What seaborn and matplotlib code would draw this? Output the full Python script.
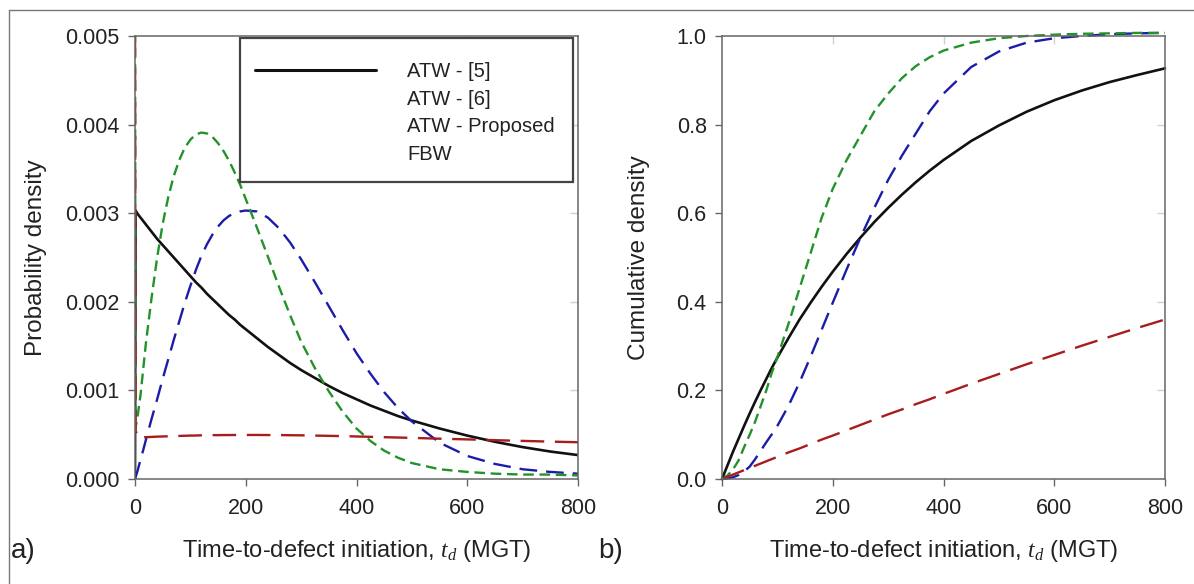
import numpy as np
import pandas as pd
import matplotlib
matplotlib.use("Agg")
import matplotlib.pyplot as plt
import seaborn as sns
from matplotlib.lines import Line2D
from matplotlib.patches import Rectangle
from matplotlib.ticker import FormatStrFormatter

# ---------------- data ----------------
series_names = ["ATW - [5]", "ATW - [6]", "ATW - Proposed", "FBW"]

# probability density, panel a)
t_pdf = [0, 1, 5, 10, 15, 20, 30, 40, 50, 60, 70, 80, 90, 100, 110, 120, 130,
         140, 150, 160, 170, 180, 190, 200, 220, 240, 260, 280, 300, 325, 350,
         375, 400, 425, 450, 475, 500, 550, 600, 650, 700, 750, 800]
pdf_atw5 = [0.0, 0.00303, 0.00299, 0.00295, 0.00291, 0.00287, 0.00279, 0.00271,
            0.00264, 0.00257, 0.00250, 0.00243, 0.00236, 0.00229, 0.00222,
            0.00216, 0.00209, 0.00203, 0.00197, 0.00191, 0.00185, 0.00180,
            0.00174, 0.00169, 0.00159, 0.00149, 0.00140, 0.00131, 0.00123,
            0.00114, 0.00105, 0.00097, 0.00090, 0.00083, 0.00077, 0.00071,
            0.00066, 0.00057, 0.00049, 0.00042, 0.00036, 0.00031, 0.00027]
pdf_atw6 = [0.0, 0.00002, 0.00010, 0.00022, 0.00033, 0.00045, 0.00068, 0.00090,
            0.00113, 0.00135, 0.00157, 0.00178, 0.00199, 0.00218, 0.00236,
            0.00252, 0.00265, 0.00276, 0.00285, 0.00292, 0.00297, 0.00300,
            0.00302, 0.00303, 0.00302, 0.00295, 0.00283, 0.00267, 0.00248,
            0.00222, 0.00195, 0.00168, 0.00142, 0.00119, 0.00098, 0.00080,
            0.00065, 0.00041, 0.00026, 0.00017, 0.00011, 0.00008, 0.00006]
pdf_prop = [0.0055, 0.00058, 0.00072, 0.00095, 0.00125, 0.00155, 0.00205,
            0.00250, 0.00288, 0.00318, 0.00342, 0.00360, 0.00374, 0.00383,
            0.00389, 0.00391, 0.00390, 0.00386, 0.00379, 0.00370, 0.00359,
            0.00346, 0.00332, 0.00316, 0.00284, 0.00251, 0.00217, 0.00185,
            0.00155, 0.00125, 0.00099, 0.00076, 0.00057, 0.00043, 0.00032,
            0.00024, 0.00018, 0.00011, 0.00008, 0.00006, 0.00005, 0.00005,
            0.00004]
pdf_fbw = [0.0055, 0.00055, 0.000470, 0.000470, 0.000471, 0.000472, 0.000475,
           0.000478, 0.000480, 0.000482, 0.000484, 0.000486, 0.000488,
           0.000490, 0.000491, 0.000493, 0.000494, 0.000495, 0.000495,
           0.000496, 0.000496, 0.000497, 0.000497, 0.000497, 0.000497,
           0.000496, 0.000496, 0.000494, 0.000493, 0.000490, 0.000487,
           0.000484, 0.000480, 0.000476, 0.000472, 0.000468, 0.000464,
           0.000455, 0.000447, 0.000438, 0.000430, 0.000422, 0.000415]

# cumulative density, panel b)
t_cdf = [0, 10, 20, 30, 40, 50, 60, 70, 80, 90, 100, 120, 140, 160, 180, 200,
         225, 250, 275, 300, 325, 350, 375, 400, 450, 500, 550, 600, 650, 700,
         750, 800]
cdf_atw5 = [0.0, 0.031, 0.062, 0.091, 0.120, 0.148, 0.175, 0.201, 0.226, 0.251,
            0.274, 0.318, 0.360, 0.398, 0.434, 0.468, 0.508, 0.545, 0.580,
            0.612, 0.642, 0.670, 0.696, 0.720, 0.763, 0.798, 0.829, 0.855,
            0.877, 0.896, 0.912, 0.927]
cdf_atw6 = [0.0, 0.001, 0.004, 0.009, 0.017, 0.028, 0.045, 0.064, 0.083, 0.101,
            0.120, 0.165, 0.218, 0.276, 0.337, 0.398, 0.473, 0.545, 0.612,
            0.675, 0.730, 0.780, 0.830, 0.870, 0.930, 0.965, 0.985, 0.995,
            1.000, 1.004, 1.006, 1.007]
cdf_prop = [0.0, 0.008, 0.022, 0.042, 0.072, 0.100, 0.130, 0.165, 0.200,
            0.240, 0.275, 0.350, 0.430, 0.510, 0.590, 0.655, 0.720, 0.775,
            0.830, 0.870, 0.905, 0.932, 0.952, 0.967, 0.985, 0.995, 1.000,
            1.003, 1.005, 1.006, 1.007, 1.007]
cdf_fbw = [0.0, 0.005, 0.010, 0.015, 0.020, 0.025, 0.030, 0.035, 0.040, 0.045,
           0.050, 0.060, 0.069, 0.079, 0.089, 0.098, 0.110, 0.122, 0.134,
           0.146, 0.157, 0.169, 0.180, 0.192, 0.215, 0.237, 0.259, 0.280,
           0.301, 0.321, 0.341, 0.360]

x_ticks = [0, 200, 400, 600, 800]
pdf_ticks = [0.000, 0.001, 0.002, 0.003, 0.004, 0.005]
cdf_ticks = [0.0, 0.2, 0.4, 0.6, 0.8, 1.0]

# ---------------- styling ----------------
sns.set_theme(style="ticks")
plt.rcParams["font.family"] = ["Liberation Sans", "DejaVu Sans"]
plt.rcParams["mathtext.fontset"] = "custom"
plt.rcParams["mathtext.it"] = "Liberation Serif:italic"
plt.rcParams["mathtext.rm"] = "Liberation Sans"

colors = ["#111111", "#1c1ca8", "#22922a", "#a81c1c"]
lws = [1.9, 1.7, 1.7, 1.7]
styles = ["-", (0, (7.5, 3.8)), (0, (4.5, 2.4)), (0, (10, 4.5))]

W, H = 1194, 584
fig = plt.figure(figsize=(W / 100, H / 100), dpi=100)


def px_rect(x0, x1, y0, y1):
    return [x0 / W, 1 - y1 / H, (x1 - x0) / W, (y1 - y0) / H]


axA = fig.add_axes(px_rect(135, 578, 36, 479))
axB = fig.add_axes(px_rect(722, 1165, 36, 479))

pdf_sets = [pdf_atw5, pdf_atw6, pdf_prop, pdf_fbw]
cdf_sets = [cdf_atw5, cdf_atw6, cdf_prop, cdf_fbw]

for name, ys, c, lw, ls in zip(series_names, pdf_sets, colors, lws, styles):
    df = pd.DataFrame({"t": t_pdf, "f": ys})
    sns.lineplot(data=df, x="t", y="f", ax=axA, color=c, linewidth=lw,
                 linestyle=ls, estimator=None, sort=False, legend=False)

for name, ys, c, lw, ls in zip(series_names, cdf_sets, colors, lws, styles):
    df = pd.DataFrame({"t": t_cdf, "F": ys})
    sns.lineplot(data=df, x="t", y="F", ax=axB, color=c, linewidth=lw,
                 linestyle=ls, estimator=None, sort=False, legend=False,
                 clip_on=False)

spine_col = "#666666"
tick_col = "#222222"
for ax, yt, fmt, ylab, ylx in [(axA, pdf_ticks, "%.3f", "Probability density", -0.224),
                               (axB, cdf_ticks, "%.1f", "Cumulative density", -0.188)]:
    ax.set_xlim(0, 800)
    ax.set_ylim(yt[0], yt[-1])
    ax.set_xticks(x_ticks)
    ax.set_yticks(yt)
    ax.yaxis.set_major_formatter(FormatStrFormatter(fmt))
    for s in ax.spines.values():
        s.set_color(spine_col)
        s.set_linewidth(1.1)
        s.set_visible(True)
    ax.tick_params(axis="both", direction="out", length=5, width=1.0,
                   color=spine_col, labelsize=15.5, labelcolor=tick_col)
    ax.tick_params(axis="x", pad=9)
    ax.tick_params(axis="y", pad=6)
    ax.set_xlabel("Time-to-defect initiation, $t_d$ (MGT)", fontsize=17,
                  color=tick_col)
    ax.xaxis.set_label_coords(0.5, -0.1625)
    ax.xaxis.label.set_va("center")
    ax.set_ylabel(ylab, fontsize=17.5, color=tick_col)
    ax.yaxis.set_label_coords(ylx, 0.5)
    ax.yaxis.label.set_va("center")
    # faint inner ticks on the opposite edges
    sy = ax.secondary_yaxis("right")
    sy.set_yticks(yt[1:-1])
    sy.tick_params(direction="in", length=6, width=1.0, color="#cfcfcf",
                   labelright=False)
    sy.spines["right"].set_visible(False)
    sx = ax.secondary_xaxis("top")
    sx.set_xticks(x_ticks[1:-1])
    sx.tick_params(direction="in", length=6, width=1.0, color="#cfcfcf",
                   labeltop=False)
    sx.spines["top"].set_visible(False)
    ax.set_facecolor("white")

# legend box (drawn separately to match its proportions)
box = Rectangle((240 / W, 1 - 182 / H), (573 - 240) / W, (182 - 38) / H,
                transform=fig.transFigure, facecolor="white",
                edgecolor="#444444", linewidth=1.6, zorder=4)
axA.add_artist(box)
box.set_clip_on(False)

# legend: only the first handle is visible in the reference
handles = [Line2D([], [], color=colors[0], lw=2.2)] + \
          [Line2D([], [], color="none", lw=2.2) for _ in range(3)]
leg = axA.legend(handles, series_names, loc="upper right",
                 bbox_to_anchor=((579 - 135) / 443, (479 - 38) / 443),
                 fontsize=14.5, handlelength=6.0, handletextpad=1.55,
                 labelspacing=0.43, borderpad=1.2, borderaxespad=0.0,
                 frameon=False)
leg.set_zorder(5)
for txt in leg.get_texts():
    txt.set_color(tick_col)

# panel labels
fig.text(11 / W, 1 - 551 / H, "a)", fontsize=20, va="center", ha="left",
         color=tick_col)
fig.text(598 / W, 1 - 551 / H, "b)", fontsize=20, va="center", ha="left",
         color=tick_col)

# figure frame (top and left edge)
fig.add_artist(Line2D([9 / W, 9 / W], [0, 1 - 10 / H], transform=fig.transFigure,
                      color="#777777", lw=1.0))
fig.add_artist(Line2D([9 / W, 1], [1 - 10 / H, 1 - 10 / H],
                      transform=fig.transFigure, color="#777777", lw=1.0))

fig.savefig("out.png", dpi=100, facecolor="white")
